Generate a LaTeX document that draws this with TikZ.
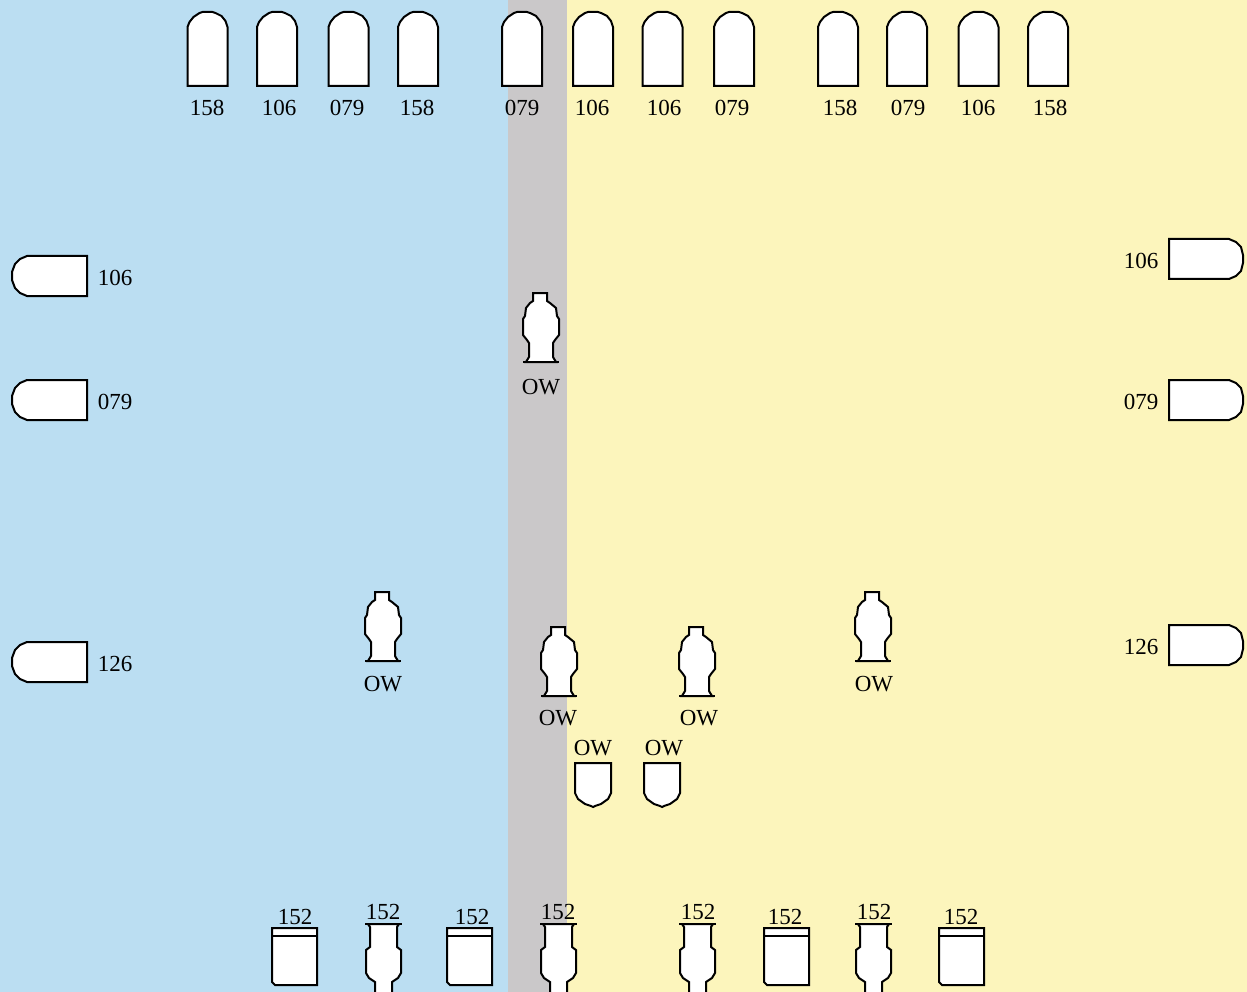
\documentclass[tikz,border=0pt]{standalone}
\usepackage{fontspec}
\setmainfont{Liberation Serif}
\definecolor{bluebg}{RGB}{187,222,242}
\definecolor{greybg}{RGB}{202,200,201}
\definecolor{yellowbg}{RGB}{252,245,188}
\tikzset{
  shp/.style={draw=black,fill=white,line width=2pt,line join=miter},
  lab/.style={inner sep=0pt,font=\fontsize{23}{23}\selectfont,text=black},
  archtop/.pic={\draw[shp] (-20,74) -- (-20,15) -- (-18,10) -- (-14,5) -- (-8,1) -- (-5,0) -- (5,0) -- (8,1) -- (14,4) -- (18,9) -- (20,15) -- (20,74) -- cycle;},
  sideleft/.pic={\draw[shp] (75,0) -- (15,0) -- (8,3) -- (3,8) -- (0,16) -- (0,24) -- (3,32) -- (8,37) -- (15,40) -- (75,40) -- cycle;},
  sideright/.pic={\draw[shp] (0,0) -- (60,0) -- (67,3) -- (72,8) -- (74,16) -- (74,24) -- (72,32) -- (67,37) -- (60,40) -- (0,40) -- cycle;},
  vase/.pic={\draw[shp] (-8,0) -- (6,0) -- (6,8) -- (9,10) -- (15,15) -- (16,23) -- (18,26) -- (18,42) -- (14,47) -- (12,50) -- (12,64) -- (15,69) -- (-15,69) -- (-12,64) -- (-12,50) -- (-14,47) -- (-18,42) -- (-18,26) -- (-16,23) -- (-15,15) -- (-11,10) -- (-8,8) -- cycle;
    \draw[black,line width=2pt] (-18,69) -- (18,69);},
  vaseup/.pic={\draw[shp] (-8,0) -- (9,0) -- (9,-11) -- (15,-15) -- (18,-20) -- (18,-43) -- (14,-46) -- (14,-66) -- (16,-69) -- (-15,-69) -- (-13,-66) -- (-13,-46) -- (-17,-43) -- (-17,-20) -- (-14,-15) -- (-8,-11) -- cycle;
    \draw[black,line width=2pt] (-18,-69) -- (19,-69);},
  boxcap/.pic={\draw[shp] (0,0) -- (45,0) -- (45,57) -- (3,57) -- (0,54) -- cycle;
    \draw[black,line width=2pt] (0,8) -- (45,8);},
  shield/.pic={\draw[shp] (0,0) -- (36,0) -- (36,30) -- (33,36) -- (26,41) -- (20,43) -- (18,44) -- (16,43) -- (10,41) -- (3,36) -- (0,30) -- cycle;}
}
\begin{document}
\begin{tikzpicture}[x=1pt,y=-1pt]
\useasboundingbox (0,0) rectangle (1247,992);
\fill[bluebg] (0,0) rectangle (508,992);
\fill[greybg] (508,0) rectangle (567,992);
\fill[yellowbg] (567,0) rectangle (1247,992);
% top row
\foreach \i/\cx/\lx/\t in {1/207.5/207/158,2/277/279/106,3/348.5/347/079,4/418/417/158,5/522/522/079,6/593/592/106,7/662.5/664/106,8/734/732/079,9/838/840/158,10/907/908/079,11/978.5/978/106,12/1048/1050/158}{
  \pic at (\cx,12) {archtop};
  \node[lab] (top\i) at (\lx,108) {\t};
}
% left side
\foreach \i/\y/\ly/\t in {1/256/278/106,2/380/402/079,3/642/664/126}{
  \pic at (12,\y) {sideleft};
  \node[lab] (left\i) at (115,\ly) {\t};
}
% right side
\foreach \i/\y/\ly/\t in {1/239/261/106,2/380/402/079,3/625/647/126}{
  \pic at (1169,\y) {sideright};
  \node[lab] (right\i) at (1141,\ly) {\t};
}
% OW vases
\foreach \i/\cx/\y/\ly/\lx in {1/541/293/387/541,2/383/592/684/383,3/559/627/718/558,4/697/627/718/699,5/873/592/684/874}{
  \pic at (\cx,\y) {vase};
  \node[lab] (ow\i) at (\lx,\ly) {OW};
}
% OW shields
\foreach \i/\x/\lx in {1/575/593,2/644/664}{
  \pic at (\x,763) {shield};
  \node[lab] (sh\i) at (\lx,748) {OW};
}
% bottom vases
\foreach \i/\cx/\lx in {1/383/383,2/558/558,3/697/698,4/873/874}{
  \pic at (\cx,993) {vaseup};
  \node[lab] (bv\i) at (\lx,912) {152};
}
% bottom boxes
\foreach \i/\x/\lx in {1/272/295,2/447/472,3/764/785,4/939/961}{
  \pic at (\x,928) {boxcap};
  \node[lab] (bb\i) at (\lx,917) {152};
}
\end{tikzpicture}
\end{document}
